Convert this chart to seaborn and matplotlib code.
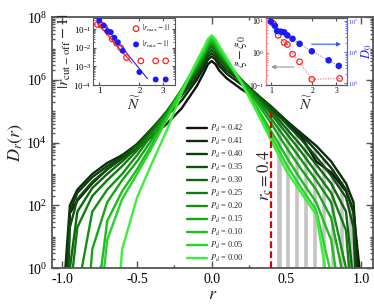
import numpy as np
import pandas as pd
import seaborn as sns
import matplotlib
matplotlib.use("Agg")
import matplotlib.pyplot as plt
import matplotlib.ticker as mt

nan = np.nan

# ---- main panel: log10 D_r(r) ----
P_d = [0.42, 0.41, 0.40, 0.35, 0.30, 0.25, 0.20, 0.15, 0.10, 0.05, 0.00]
r_grid = [-0.95, -0.9, -0.8, -0.7, -0.6, -0.5, -0.4, -0.3, -0.2, -0.1, -0.05, -0.025, 0.0,
          0.025, 0.05, 0.1, 0.2, 0.3, 0.4, 0.5, 0.6, 0.7, 0.8, 0.9, 0.95]
r_left_end = [-0.97, -0.98, -0.97, -0.96, -0.95, -0.93, -0.87, -0.81, -0.74, -0.72, -0.61]
r_right_end = [0.99, 0.98, 0.97, 0.96, 0.94, 0.92, 0.90, 0.87, 0.83, 0.79, 0.76]

d42 = [1.75, 2.15, 2.7, 3.15, 3.5, 3.8, 4.2, 4.6, 5.1, 5.8, 6.25, 6.5, 6.6, 6.5, 6.3, 6.05, 5.7, 5.4, 5.05, 4.65, 4.2, 3.4, 3.05, 2.45, 1.8]
d41 = [2.0, 2.5, 3.0, 3.35, 3.6, 3.95, 4.4, 4.85, 5.35, 6.0, 6.4, 6.65, 6.75, 6.65, 6.45, 6.2, 5.85, 5.5, 5.1, 4.7, 4.3, 3.9, 3.4, 2.7, 2.1]
d40 = [1.8, 2.4, 2.9, 3.25, 3.55, 3.95, 4.45, 4.95, 5.5, 6.1, 6.5, 6.75, 6.85, 6.75, 6.55, 6.3, 5.95, 5.55, 5.15, 4.7, 4.25, 3.75, 3.2, 2.5, 1.8]
d35 = [1.3, 2.2, 2.75, 3.15, 3.5, 3.95, 4.45, 5.0, 5.6, 6.2, 6.6, 6.85, 6.95, 6.85, 6.65, 6.4, 6.0, 5.55, 5.1, 4.6, 4.1, 3.55, 2.95, 2.25, 1.3]
d30 = [nan, 1.8, 2.55, 3.0, 3.4, 3.85, 4.4, 5.0, 5.65, 6.3, 6.7, 6.95, 7.05, 6.95, 6.75, 6.45, 6.0, 5.5, 5.0, 4.45, 3.9, 3.3, 2.7, 1.8, nan]
d25 = [nan, 1.3, 2.3, 2.8, 3.25, 3.75, 4.35, 5.0, 5.7, 6.35, 6.75, 7.0, 7.1, 7.0, 6.8, 6.5, 6.0, 5.45, 4.9, 4.3, 3.7, 3.05, 2.4, 1.2, nan]
d20 = [nan, nan, 1.8, 2.5, 3.0, 3.6, 4.25, 4.95, 5.7, 6.4, 6.8, 7.05, 7.15, 7.05, 6.85, 6.55, 6.0, 5.4, 4.75, 4.1, 3.45, 2.8, 2.1, nan, nan]
d15 = [nan, nan, 0.6, 2.1, 2.8, 3.4, 4.1, 4.9, 5.7, 6.45, 6.85, 7.1, 7.2, 7.1, 6.9, 6.6, 5.95, 5.3, 4.6, 3.85, 3.15, 2.5, 1.6, nan, nan]
d10 = [nan, nan, nan, 1.5, 2.45, 3.15, 3.95, 4.8, 5.7, 6.5, 6.9, 7.17, 7.28, 7.17, 6.95, 6.6, 5.9, 5.15, 4.35, 3.55, 2.8, 2.1, 0.9, nan, nan]
d05 = [nan, nan, nan, 0.9, 2.2, 3.0, 3.85, 4.75, 5.7, 6.55, 6.95, 7.23, 7.35, 7.23, 7.0, 6.65, 5.9, 5.1, 4.2, 3.3, 2.55, 1.85, nan, nan, nan]
d00 = [nan, nan, nan, nan, 0.6, 2.25, 3.35, 4.4, 5.6, 6.6, 7.05, 7.3, 7.42, 7.3, 7.08, 6.7, 5.9, 5.0, 4.05, 3.1, 2.4, 1.7, nan, nan, nan]
curves = [d42, d41, d40, d35, d30, d25, d20, d15, d10, d05, d00]
colors = ['#111111', '#0b2b0b', '#0c3e0c', '#0e520e', '#0f660f', '#117a11',
          '#139013', '#16a616', '#1cbd1c', '#28d428', '#40ec40']

# grey bars beyond r_c
r_c = 0.4
r_c_top = 1.3e5
bar_r = [0.45, 0.51, 0.57, 0.63, 0.69, 0.75, 0.81, 0.87, 0.93]
bar_logh = [4.9, 4.6, 4.4, 4.1, 3.8, 3.5, 3.2, 2.8, 2.2]

# ---- inset 1: |r_cut-off - 1| vs N ----
N_max = [0.97, 1.03, 1.1, 1.17, 1.25, 1.35, 1.45, 1.6, 2.05, 2.65, 3.15]
r_max_dev = [0.18, 0.17, 0.12, 0.07, 0.03, 0.018, 0.01, 0.003, 2e-3, 2e-3, 2e-3]
N_min = [1.0, 1.08, 1.15, 1.22, 1.3, 1.38, 1.5, 2.0, 2.65, 3.15]
r_min_dev = [0.3, 0.16, 0.08, 0.07, 0.035, 0.02, 0.007, 5e-4, 2e-4, 2e-4]
fit_max_N = [0.96, 1.76]
fit_max_v = [0.23, 0.0015]
fit_min_N = [1.0, 2.3]
fit_min_v = [0.35, 2.2e-4]

# ---- inset 2: xi - xi_0 and D_0 vs N ----
N_xi = [1.04, 1.13, 1.25, 1.32, 1.44, 1.62, 1.99, 3.18]
xi_dev = [7.9, 3.4, 2.04, 1.77, 0.89, 0.52, 0.15, 0.16]
N_D0 = [1.0, 1.07, 1.11, 1.18, 1.25, 1.32, 1.44, 1.62, 1.99, 2.64, 3.13]
logD0 = [6.98, 6.85, 6.68, 6.66, 6.64, 6.54, 6.43, 6.27, 6.03, 5.74, 5.56]

sns.set_style("ticks")
plt.rcParams['font.family'] = ['Liberation Serif', 'DejaVu Serif']
plt.rcParams['mathtext.fontset'] = 'stix'
plt.rcParams['axes.edgecolor'] = '#555555'
plt.rcParams['xtick.color'] = '#555555'
plt.rcParams['ytick.color'] = '#555555'
plt.rcParams['xtick.labelcolor'] = 'black'
plt.rcParams['ytick.labelcolor'] = 'black'

fig = plt.figure(figsize=(3.74, 3.06), dpi=100)
ax = fig.add_axes([0.139, 0.124, 0.858, 0.820])

ax.bar(bar_r, [10 ** h - 1 for h in bar_logh], width=0.036, bottom=1,
       color='#c4c4c4', zorder=1)

labels = ['$P_d$ = %.2f' % p for p in P_d]
rows = []
for lab, vals, a, b in zip(labels, curves, r_left_end, r_right_end):
    rows.append((lab, a, 1.0))
    for r, v in zip(r_grid, vals):
        if not np.isnan(v) and a < r < b:
            rows.append((lab, r, 10 ** v))
    rows.append((lab, b, 1.0))
df = pd.DataFrame(rows, columns=['P', 'r', 'D'])
sns.lineplot(data=df, x='r', y='D', hue='P', hue_order=labels, palette=colors,
             estimator=None, sort=False, linewidth=1.7, ax=ax, legend=False, zorder=2)

ax.vlines(r_c, 1, r_c_top, colors='#e00000', linestyles=(0, (3, 1.5)), linewidth=1.6, zorder=3)
ax.text(r_c - 0.045, 10 ** 2.95, r'$r_{\rm c}=0.4$', rotation=90, ha='center', va='center',
        fontsize=12, zorder=4)

ax.set_yscale('log')
ax.set_xlim(-1.07, 1.08)
ax.set_ylim(1, 1e8)
ax.yaxis.set_major_locator(mt.LogLocator(base=100))
ax.yaxis.set_minor_locator(mt.LogLocator(base=10, subs=np.arange(1, 10), numticks=20))
ax.yaxis.set_minor_formatter(mt.NullFormatter())
ax.xaxis.set_major_locator(mt.MultipleLocator(0.5))
ax.xaxis.set_minor_locator(mt.MultipleLocator(0.25))
ax.xaxis.set_major_formatter(mt.FormatStrFormatter('%.1f'))
ax.tick_params(which='both', direction='in', top=True, right=True, labelsize=10, width=1)
ax.tick_params(which='major', length=5)
ax.tick_params(which='minor', length=2.5)
for s in ax.spines.values():
    s.set_linewidth(1.3)
ax.set_xlabel('$r$', fontsize=13, labelpad=0)
ax.set_ylabel('$D_r(r)$', fontsize=13, labelpad=1)

handles = ax.get_lines()[:len(P_d)]
ax.legend(handles, labels, loc='lower left', bbox_to_anchor=(0.405, -0.005), frameon=False,
          fontsize=6, handlelength=2.4, labelspacing=0.22, handletextpad=0.4, borderaxespad=0.2)

# inset 1
ax1 = fig.add_axes([0.249, 0.722, 0.219, 0.219])
ax1.set_xscale('log')
ax1.set_yscale('log')
sns.lineplot(x=fit_max_N, y=fit_max_v, color='#ff2020', linewidth=0.8, ax=ax1)
sns.lineplot(x=fit_min_N, y=fit_min_v, color='#2020ff', linewidth=0.8, ax=ax1)
ax1.scatter(N_max, r_max_dev, s=16, facecolors='none', edgecolors='#ff2020', linewidths=0.9,
            label=r'$|r_{\rm max}-1|$', zorder=3)
sns.scatterplot(x=N_min, y=r_min_dev, s=18, color='#1a1aff', edgecolor='none',
                label=r'$|r_{\rm min}-1|$', ax=ax1, zorder=3)
ax1.set_xlim(0.9, 3.7)
ax1.set_ylim(1e-4, 0.4)
ax1.xaxis.set_major_locator(mt.FixedLocator([1, 2, 3]))
ax1.xaxis.set_major_formatter(mt.FixedFormatter(['1', '2', '3']))
ax1.xaxis.set_minor_locator(mt.NullLocator())
ax1.yaxis.set_major_locator(mt.LogLocator(base=10, numticks=10))
ax1.yaxis.set_minor_locator(mt.LogLocator(base=10, subs=np.arange(2, 10), numticks=10))
ax1.yaxis.set_minor_formatter(mt.NullFormatter())
ax1.tick_params(which='both', direction='in', top=True, right=True, labelsize=6.5, pad=1.5)
ax1.tick_params(which='major', length=2.5)
ax1.tick_params(which='minor', length=1.3)
ax1.set_xlabel(r'$\widetilde{N}$', fontsize=11, labelpad=0)
ax1.set_ylabel(r'$|r_{\rm cut-off}-1|$', fontsize=11.5, labelpad=0)
ax1.legend(loc='upper right', frameon=False, fontsize=5.5, handletextpad=0.2,
           borderaxespad=0.2, labelspacing=0.6, handlelength=1.2)

# inset 2
ax2 = fig.add_axes([0.711, 0.722, 0.217, 0.219])
ax2r = ax2.twinx()
for a in (ax2, ax2r):
    a.set_xscale('log')
    a.set_yscale('log')
sns.lineplot(x=N_xi, y=xi_dev, color='#ff4040', linestyle=':', linewidth=0.7, ax=ax2)
ax2.scatter(N_xi, xi_dev, s=16, facecolors='none', edgecolors='#ff2020', linewidths=0.9, zorder=3)
D0 = [10 ** v for v in logD0]
sns.lineplot(x=N_D0, y=D0, color='#6060ff', linestyle=':', linewidth=0.7, ax=ax2r)
sns.scatterplot(x=N_D0, y=D0, s=22, color='#1a1aff', edgecolor='none', ax=ax2r, zorder=3)
ax2.set_xlim(0.92, 3.6)
ax2.set_ylim(0.1, 11.5)
ax2r.set_ylim(0.88e5, 1.25e7)
for a in (ax2, ax2r):
    a.xaxis.set_major_locator(mt.FixedLocator([1, 2, 3]))
    a.xaxis.set_major_formatter(mt.FixedFormatter(['1', '2', '3']))
    a.xaxis.set_minor_locator(mt.NullLocator())
    a.yaxis.set_major_locator(mt.LogLocator(base=10, numticks=10))
    a.yaxis.set_minor_locator(mt.LogLocator(base=10, subs=np.arange(2, 10), numticks=10))
    a.yaxis.set_minor_formatter(mt.NullFormatter())
    a.tick_params(which='major', length=2.5)
    a.tick_params(which='minor', length=1.3)
ax2.tick_params(which='both', direction='in', top=True, labelsize=5.5, pad=1.5)
ax2.tick_params(axis='y', which='both', colors='#ff8080', labelcolor='black')
ax2r.tick_params(which='both', direction='in', labelsize=4.5, pad=1,
                 colors='#6060ff', labelcolor='#3030ff')
ax2r.spines['left'].set_color('#ff8080')
ax2r.spines['right'].set_color('#6060ff')
ax2.set_xlabel(r'$\widetilde{N}$', fontsize=11, labelpad=0)
ax2.set_ylabel(r'$\xi-\xi_0$', fontsize=10, labelpad=0)
ax2r.set_ylabel(r'$D_0$', fontsize=9, color='#2020ff', labelpad=0)
ax2.annotate('', xy=(0.96, 0.61), xytext=(0.53, 0.61), xycoords='axes fraction',
             arrowprops=dict(arrowstyle='-|>', color='#3355ff', lw=0.8, mutation_scale=6))
ax2.annotate('', xy=(0.03, 0.27), xytext=(0.38, 0.27), xycoords='axes fraction',
             arrowprops=dict(arrowstyle='-|>', color='#999999', lw=0.8, mutation_scale=6))

fig.savefig('out.png', dpi=100)
